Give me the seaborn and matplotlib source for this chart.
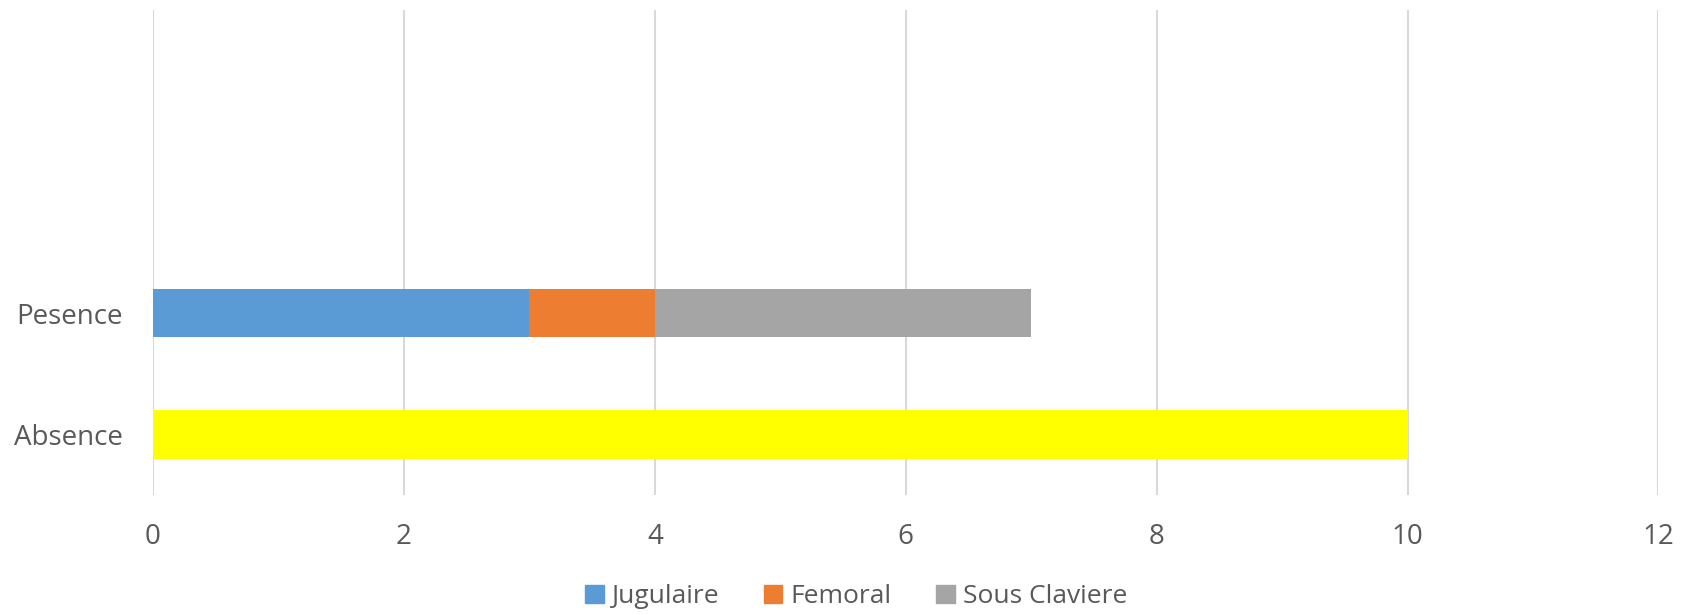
import numpy as np
import pandas as pd
import matplotlib
matplotlib.use("Agg")
import matplotlib.pyplot as plt
from matplotlib.patches import Patch
import seaborn as sns

# donnees
categories = ["Pesence", "Absence"]
jugulaire = [3, 0]
femoral = [1, 0]
sous_claviere = [3, 0]
absence = [0, 10]
x_ticks = [0, 2, 4, 6, 8, 10, 12]

sns.set_style("white")
plt.rcParams["font.family"] = ["Open Sans", "DejaVu Sans"]

df = pd.DataFrame({"cat": categories, "Jugulaire": jugulaire,
                   "Femoral": femoral, "Sous Claviere": sous_claviere,
                   "Absence": absence})
df["c1"] = df["Jugulaire"]
df["c2"] = df["c1"] + df["Femoral"]
df["c3"] = df["c2"] + df["Sous Claviere"]

fig = plt.figure(figsize=(16.82, 6.15), dpi=100)
ax = fig.add_axes([0.091, 0.195, 0.895, 0.789])

# empiler en dessinant les cumuls du plus long au plus court
sns.barplot(data=df, x="c3", y="cat", color="#a5a5a5", width=0.4, orient="h",
            saturation=1, ax=ax)
sns.barplot(data=df, x="c2", y="cat", color="#ed7d31", width=0.4, orient="h",
            saturation=1, ax=ax)
sns.barplot(data=df, x="c1", y="cat", color="#5b9bd5", width=0.4, orient="h",
            saturation=1, ax=ax)
sns.barplot(data=df, x="Absence", y="cat", color="#ffff00", width=0.4, orient="h",
            saturation=1, ax=ax)

for p in ax.patches:
    p.set_edgecolor("none")
    p.set_linewidth(0)

ax.set_xlim(0, 12)
ax.set_xticks(x_ticks)
ax.set_ylim(1.5, -2.5)
ax.set_xlabel("")
ax.set_ylabel("")
ax.grid(axis="x", color="#d9d9d9", linewidth=1.5)
ax.set_axisbelow(True)
for s in ax.spines.values():
    s.set_visible(False)
ax.tick_params(axis="x", length=0, pad=20, labelsize=20, labelcolor="#595959")
ax.tick_params(axis="y", length=0, pad=22, labelsize=20, labelcolor="#595959")

handles = [Patch(color="#5b9bd5", label="Jugulaire"),
           Patch(color="#ed7d31", label="Femoral"),
           Patch(color="#a5a5a5", label="Sous Claviere")]
leg = fig.legend(handles=handles, loc="center", bbox_to_anchor=(0.509, 0.03),
                 ncol=3, frameon=False, fontsize=19, handlelength=0.7,
                 handleheight=0.7, handletextpad=0.3, columnspacing=1.7)
for t in leg.get_texts():
    t.set_color("#595959")

fig.savefig("out.png", dpi=100)
